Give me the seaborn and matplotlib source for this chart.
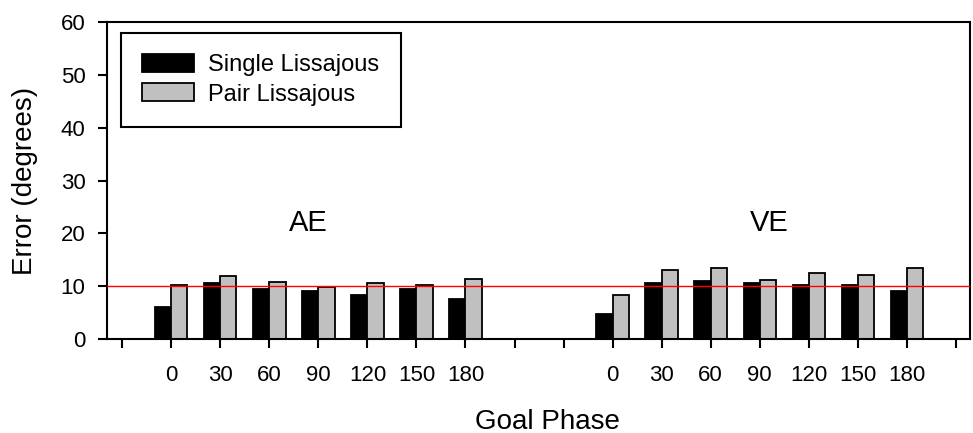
import pandas as pd
import matplotlib
matplotlib.use("Agg")
import matplotlib.pyplot as plt
import seaborn as sns

# goal phases (deg) shown under each block
phases = [0, 30, 60, 90, 120, 150, 180]
blocks = ["AE", "VE"]
series = ["Single Lissajous", "Pair Lissajous"]

# error values
ae_single = [6.0, 10.6, 9.5, 9.0, 8.4, 9.5, 7.5]
ae_pair = [10.2, 11.9, 10.8, 9.8, 10.6, 10.2, 11.4]
ve_single = [4.7, 10.6, 11.0, 10.6, 10.2, 10.2, 9.0]
ve_pair = [8.4, 13.1, 13.4, 11.2, 12.5, 12.1, 13.4]

criterion = 10
n_slots = 18  # empty slots before, between and after the two blocks
block_start = {"AE": 1, "VE": 10}

rows = []
for block, single, pair in [("AE", ae_single, ae_pair), ("VE", ve_single, ve_pair)]:
    for i, ph in enumerate(phases):
        slot = block_start[block] + i
        rows.append({"slot": slot, "block": block, "phase": ph, "series": series[0], "error": single[i]})
        rows.append({"slot": slot, "block": block, "phase": ph, "series": series[1], "error": pair[i]})
df = pd.DataFrame(rows)

sns.set_style("ticks")
plt.rcParams["font.family"] = ["Liberation Sans", "DejaVu Sans"]
plt.rcParams["text.color"] = "black"
plt.rcParams["axes.labelcolor"] = "black"
plt.rcParams["xtick.color"] = "black"
plt.rcParams["ytick.color"] = "black"

fig = plt.figure(figsize=(9.73, 4.33), dpi=100)
ax = fig.add_axes([0.110, 0.217, 0.887, 0.732])

sns.barplot(data=df, x="slot", y="error", hue="series", hue_order=series,
            palette={series[0]: "black", series[1]: "#c0c0c0"},
            native_scale=True, width=0.66, gap=0, errorbar=None,
            edgecolor="black", linewidth=1.3, ax=ax)

ax.axhline(criterion, color="red", lw=1.0, zorder=5)

ax.set_ylim(0, 60)
ax.set_yticks(range(0, 61, 10))
ax.set_xlim(-0.31, n_slots - 1 + 0.29)
ax.set_xticks(range(n_slots))
labels = [""] * n_slots
for block in blocks:
    for i, ph in enumerate(phases):
        labels[block_start[block] + i] = str(ph)
ax.set_xticklabels(labels)

for s in ax.spines.values():
    s.set_linewidth(1.5)
    s.set_color("black")
ax.tick_params(axis="both", width=1.5, length=6.5, color="black",
               labelcolor="black", labelsize=16)
ax.tick_params(axis="x", pad=12)
ax.tick_params(axis="y", pad=9)

ax.set_xlabel("Goal Phase", fontsize=20, color="black")
ax.set_ylabel("Error (degrees)", fontsize=20, labelpad=16, color="black")
ax.xaxis.set_label_coords(0.51, -0.22)

ax.text(3.8, 22, "AE", fontsize=21, ha="center", va="center", color="black")
ax.text(13.2, 22, "VE", fontsize=21, ha="center", va="center", color="black")

handles, labs = ax.get_legend_handles_labels()
leg = ax.legend(handles, labs, loc="upper left", bbox_to_anchor=(0.0162, 0.966),
                borderaxespad=0, fontsize=17, frameon=True, fancybox=False,
                edgecolor="black", borderpad=0.9, handlelength=2.2,
                handleheight=0.8, handletextpad=0.6, labelspacing=0.3,
                labelcolor="black")
leg.get_frame().set_linewidth(1.5)
leg.get_frame().set_alpha(1)

fig.savefig("out.png", dpi=100)
plt.close(fig)
